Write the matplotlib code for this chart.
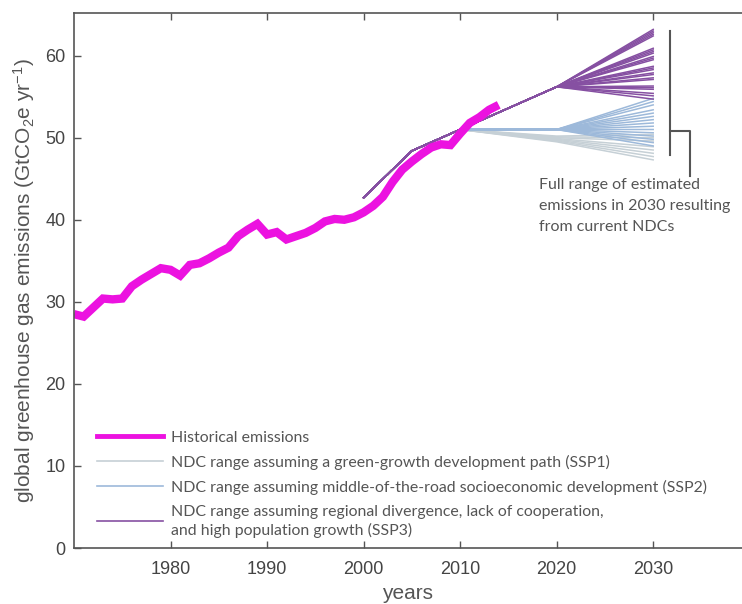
import matplotlib
matplotlib.use("Agg")
import matplotlib.pyplot as plt
from matplotlib.lines import Line2D

plt.rcParams['font.family'] = ['Liberation Sans', 'DejaVu Sans']
plt.rcParams['mathtext.fontset'] = 'custom'
plt.rcParams['mathtext.rm'] = 'Liberation Sans'
plt.rcParams['mathtext.it'] = 'Liberation Sans'

# historical emissions, GtCO2e/yr
hist_years = list(range(1970, 2015))
hist_values = [28.5, 28.2, 29.3, 30.4, 30.3, 30.4, 31.9, 32.7, 33.4, 34.1,
               33.9, 33.2, 34.5, 34.7, 35.3, 36.0, 36.6, 38.0, 38.8, 39.5,
               38.2, 38.5, 37.6, 38.0, 38.4, 39.0, 39.8, 40.1, 40.0, 40.3,
               40.9, 41.7, 42.8, 44.6, 46.1, 47.1, 48.0, 48.8, 49.2, 49.1,
               50.5, 51.8, 52.5, 53.4, 54.0]

# NDC projections: shared start 2000-2010, then 2020 and 2030
ndc_years = [2000, 2005, 2010, 2020, 2030]
ndc_start = [42.7, 48.4, 51.0]

ssp1_2020 = [50.2, 50.1, 50.0, 49.9, 49.8, 49.7, 49.6, 49.5]
ssp1_2030 = [50.4, 50.0, 49.6, 48.9, 48.5, 48.1, 47.7, 47.3]

ssp2_2020 = 51.0
ssp2_2030 = [54.8, 54.4, 54.0, 53.4, 53.0, 52.6, 52.2, 51.8, 51.4, 51.0,
             50.6, 50.2, 49.8, 49.4, 49.0]

ssp3_2020 = 56.2
ssp3_2030 = [63.2, 63.0, 62.8, 62.6, 62.4, 60.9, 60.7, 60.5, 60.3, 59.9,
             59.7, 59.5, 58.7, 58.5, 58.3, 57.9, 57.7, 57.3, 57.1, 56.3,
             56.1, 55.9, 55.4, 55.1, 54.7]

labels = ["Historical emissions",
          "NDC range assuming a green-growth development path (SSP1)",
          "NDC range assuming middle-of-the-road socioeconomic development (SSP2)",
          "NDC range assuming regional divergence, lack of cooperation,\nand high population growth (SSP3)"]

c_hist = '#EC12E0'
c_ssp1 = '#C6D0D6'
c_ssp2 = '#9DB9DA'
c_ssp3 = '#8650A2'
grey = '#555555'

fig = plt.figure(figsize=(7.42, 6.04), dpi=100)
ax = fig.add_axes([0.0997, 0.0927, 0.9003, 0.8858])

for v20, v30 in zip(ssp1_2020, ssp1_2030):
    ax.plot(ndc_years, ndc_start + [v20, v30], color=c_ssp1, lw=1.1)
for v30 in ssp2_2030:
    ax.plot(ndc_years, ndc_start + [ssp2_2020, v30], color=c_ssp2, lw=1.1)
for v30 in ssp3_2030:
    ax.plot(ndc_years, ndc_start + [ssp3_2020, v30], color=c_ssp3, lw=1.1)

ax.plot(hist_years, hist_values, color=c_hist, lw=6, solid_joinstyle='miter',
        solid_capstyle='butt')

ax.set_xlim(1970, 2039.2)
ax.set_ylim(0, 65.2)
ax.set_xticks([1980, 1990, 2000, 2010, 2020, 2030])
ax.set_yticks([0, 10, 20, 30, 40, 50, 60])
ax.tick_params(direction='in', length=5, width=1, colors='#555555',
               labelcolor='#444444', labelsize=13, top=True, pad=9)
ax.tick_params(axis='y', pad=6)
for s in ['left', 'bottom', 'top']:
    ax.spines[s].set_color('#555555')
    ax.spines[s].set_linewidth(1.2)
ax.spines['right'].set_visible(False)

ax.set_ylabel(r'global greenhouse gas emissions (GtCO$_2$e yr$^{-1}$)',
              fontsize=15, color=grey, labelpad=6)
ax.set_xlabel('years', fontsize=15, color=grey, labelpad=5)

# bracket for 2030 range
ax.plot([2031.7, 2031.7], [47.9, 63.0], color=grey, lw=1.5)
ax.plot([2031.7, 2033.8, 2033.8], [50.8, 50.8, 45.3], color=grey, lw=1.5)
ax.text(2018.2, 45.1, 'Full range of estimated\nemissions in 2030 resulting\nfrom current NDCs',
        fontsize=11.5, color=grey, family=['Lato', 'DejaVu Sans'],
        va='top', ha='left', linespacing=1.65)

handles = [Line2D([], [], color=c_hist, lw=3.5),
           Line2D([], [], color=c_ssp1, lw=1.2),
           Line2D([], [], color=c_ssp2, lw=1.2),
           Line2D([], [], color=c_ssp3, lw=1.2)]
leg = ax.legend(handles, labels, loc='upper left', bbox_to_anchor=(0.016, 0.243),
                frameon=False, handlelength=4.1, handletextpad=0.5,
                labelspacing=0.62, borderpad=0.3,
                prop={'family': ['Lato', 'DejaVu Sans'], 'size': 11.45})
for t in leg.get_texts():
    t.set_color(grey)
    t.set_linespacing(1.35)

fig.savefig('out.png', dpi=100)
